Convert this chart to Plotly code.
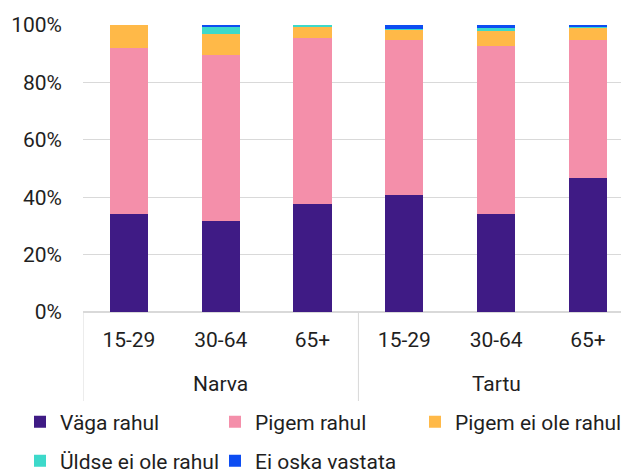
import plotly.graph_objects as go

cities = ["Narva", "Tartu"]
ages = ["15-29", "30-64", "65+", "15-29", "30-64", "65+"]

vaga_rahul = [34.0, 31.6, 37.5, 40.6, 34.0, 46.6]
pigem_rahul = [58.1, 58.0, 57.9, 54.1, 58.8, 48.1]
pigem_ei_ole = [7.9, 7.3, 4.2, 3.6, 5.1, 4.4]
uldse_ei_ole = [0.0, 2.3, 0.4, 0.2, 1.2, 0.5]
ei_oska = [0.0, 0.8, 0.0, 1.5, 0.9, 0.4]

series = [
    ("Väga rahul", vaga_rahul, "#3F1B85", "legend"),
    ("Pigem rahul", pigem_rahul, "#F48FAA", "legend"),
    ("Pigem ei ole rahul", pigem_ei_ole, "#FFB948", "legend3"),
    ("Üldse ei ole rahul", uldse_ei_ole, "#3DD9CA", "legend2"),
    ("Ei oska vastata", ei_oska, "#0D4DF2", "legend2"),
]

xpos = list(range(len(ages)))
per_group = len(ages) // len(cities)

# page body has an 8px default margin -> figure is 8px smaller than the window
W, H = 621, 465
ML, MT, MB = 75, 17, 161
PH = H - MT - MB   # plot height in px
PW = W - ML

fig = go.Figure()
for name, vals, color, leg in series:
    fig.add_trace(go.Bar(
        x=xpos, y=vals, name=name, legend=leg,
        marker=dict(color=color, line=dict(width=0)),
    ))

FONT = dict(family="Roboto", size=21, color="#1f1f1f")
GRID = "#d9d9d9"

# group labels and dividers
for gi, city in enumerate(cities):
    center = gi * per_group + (per_group - 1) / 2
    fig.add_annotation(x=center, y=-72 / PH, xref="x", yref="paper",
                       text=city, showarrow=False, font=FONT,
                       xanchor="center", yanchor="middle")
for gi in range(len(cities) + 1):
    xd = gi * per_group - 0.5
    fig.add_shape(type="line", xref="x", yref="paper",
                  x0=xd, x1=xd, y0=0, y1=-89 / PH,
                  line=dict(color=GRID, width=1))

leg_common = dict(
    orientation="h", xref="paper", yref="paper",
    x=(12 - ML) / PW, xanchor="left", yanchor="middle",
    entrywidth=150, entrywidthmode="pixels", itemwidth=30,
    font=FONT, traceorder="normal", bgcolor="rgba(0,0,0,0)",
)
leg_third = dict(
    orientation="h", xref="paper", yref="paper",
    x=(407 - ML) / PW, xanchor="left", yanchor="middle",
    itemwidth=30, font=FONT, bgcolor="rgba(0,0,0,0)",
)

row1_y = (PH + MT - 414) / PH
row2_y = (PH + MT - 453) / PH

fig.update_layout(
    width=W, height=H,
    barmode="stack", bargap=0.585,
    margin=dict(l=ML, r=0, t=MT, b=MB, autoexpand=False),
    paper_bgcolor="white", plot_bgcolor="white",
    font=FONT,
    showlegend=True,
    legend=dict(leg_common, y=row1_y),
    legend2=dict(leg_common, y=row2_y),
    legend3=dict(leg_third, y=row1_y),
    xaxis=dict(
        tickmode="array", tickvals=xpos, ticktext=ages,
        showgrid=False, showline=True, linecolor=GRID, linewidth=1,
        ticks="", range=[-0.5, 5.447], automargin=False,
        ticklabelstandoff=9, tickfont=FONT,
    ),
    yaxis=dict(
        range=[0, 100], dtick=20, ticksuffix="%",
        showgrid=True, gridcolor=GRID, gridwidth=1,
        zeroline=True, zerolinecolor=GRID, automargin=False,
        ticklabelstandoff=20, tickfont=FONT,
    ),
)

fig.write_html("out.html")
